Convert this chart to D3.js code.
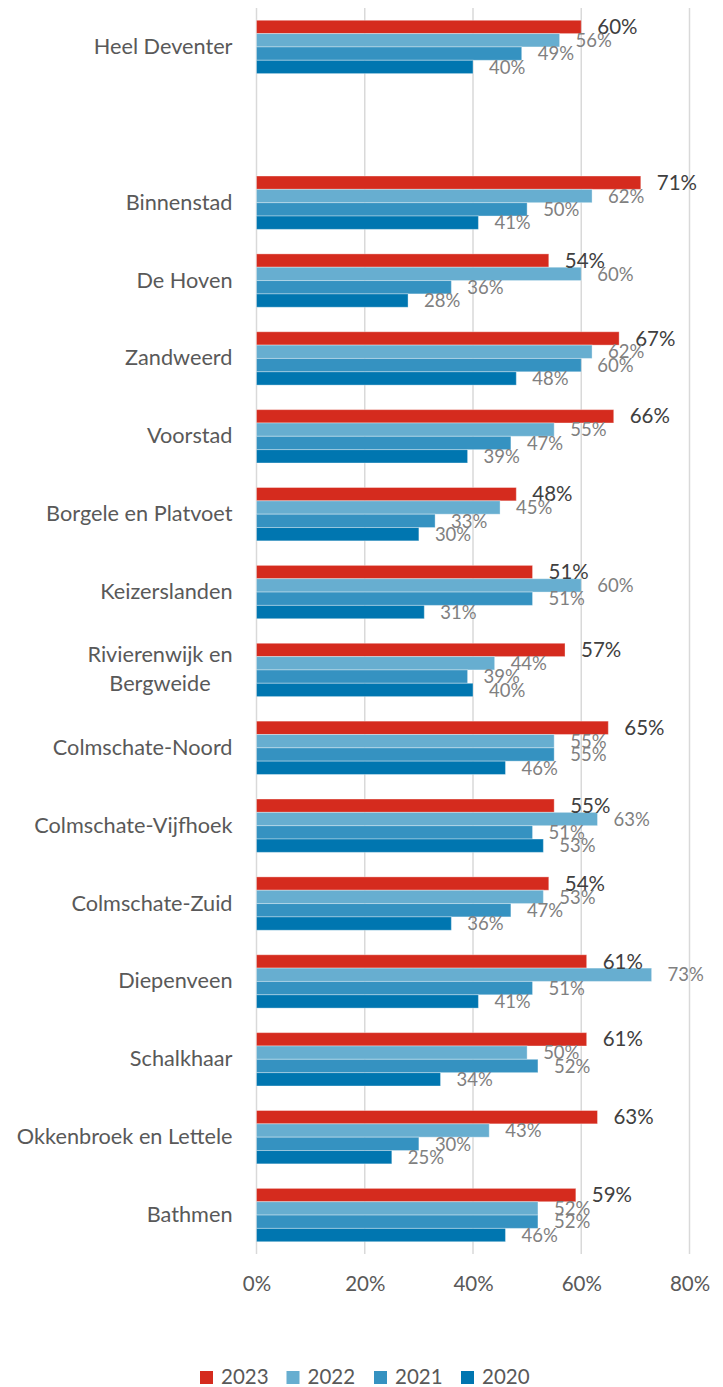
<!DOCTYPE html>
<html>
<head>
<meta charset="utf-8">
<script src="https://cdn.jsdelivr.net/npm/d3@7"></script>
<style>
  body { margin: 0; background: #fff; }
  svg { display: block; font-family: Lato, "Open Sans", sans-serif; }
</style>
</head>
<body>
<svg id="chart"></svg>
<script>
// categories, "" is the empty gap row under Heel Deventer
const categories = ["Heel Deventer", "", "Binnenstad", "De Hoven", "Zandweerd", "Voorstad",
  "Borgele en Platvoet", "Keizerslanden", "Rivierenwijk en|Bergweide", "Colmschate-Noord",
  "Colmschate-Vijfhoek", "Colmschate-Zuid", "Diepenveen", "Schalkhaar",
  "Okkenbroek en Lettele", "Bathmen"];
const years = ["2023", "2022", "2021", "2020"];
const v2023 = [60, null, 71, 54, 67, 66, 48, 51, 57, 65, 55, 54, 61, 61, 63, 59];
const v2022 = [56, null, 62, 60, 62, 55, 45, 60, 44, 55, 63, 53, 73, 50, 43, 52];
const v2021 = [49, null, 50, 36, 60, 47, 33, 51, 39, 55, 51, 47, 51, 52, 30, 52];
const v2020 = [40, null, 41, 28, 48, 39, 30, 31, 40, 46, 53, 36, 41, 34, 25, 46];
const xTicks = [0, 20, 40, 60, 80];

const colors = {"2023": "#D52B1E", "2022": "#67AED0", "2021": "#3592C1", "2020": "#0076B0"};
const series = {"2023": v2023, "2022": v2022, "2021": v2021, "2020": v2020};

const W = 723, H = 1387;
const mLeft = 256.5, mRight = 689.5, mTop = 8, mBottom = 1254;

const svg = d3.select('#chart')
  .attr('width', W)
  .attr('height', H);

const x = d3.scaleLinear().domain([0, 80]).range([mLeft, mRight]);
const y = d3.scaleBand().domain(categories).range([mTop, mBottom])
  .paddingInner(0.315).paddingOuter(0.1575);
const yInner = d3.scaleBand().domain(years).range([0, y.bandwidth()]);

// gridlines
svg.append('g')
  .selectAll('line')
  .data(xTicks)
  .join('line')
  .attr('x1', d => x(d)).attr('x2', d => x(d))
  .attr('y1', mTop).attr('y2', mBottom)
  .attr('stroke', '#d9d9d9')
  .attr('stroke-width', 1.5);

// x axis labels
const xAxis = d3.axisBottom(x).tickValues(xTicks).tickFormat(d => d + '%').tickSize(0).tickPadding(0);
const gx = svg.append('g')
  .attr('transform', `translate(0, ${mBottom})`)
  .call(xAxis);
gx.select('.domain').remove();
gx.selectAll('text')
  .attr('dy', null)
  .attr('y', 32)
  .attr('dominant-baseline', 'middle')
  .attr('fill', '#595959')
  .style('font-family', 'Lato, sans-serif')
  .style('font-size', '20.5px');

// category labels
const catG = svg.append('g');
categories.forEach((c, i) => {
  if (c === "") return;
  const lines = c.split('|');
  const cy = y(c) + y.bandwidth() / 2;
  const lh = 29;
  const t = catG.append('text')
    .attr('fill', '#595959')
    .style('font-size', '21.7px')
    .attr('dominant-baseline', 'middle');
  lines.forEach((ln, k) => {
    t.append('tspan')
      .attr('y', cy + (k - (lines.length - 1) / 2) * lh + 1)
      .text(ln);
  });
  if (lines.length === 1) {
    t.attr('text-anchor', 'end').selectAll('tspan').attr('x', 232.5);
  } else {
    const widths = [];
    t.selectAll('tspan').each(function() { widths.push(this.getComputedTextLength()); });
    const maxW = d3.max(widths);
    t.attr('text-anchor', 'middle').selectAll('tspan').attr('x', 232.5 - maxW / 2);
  }
});

// bars
const rows = [];
categories.forEach((c, i) => {
  years.forEach(yr => {
    const v = series[yr][i];
    if (v !== null) rows.push({cat: c, year: yr, value: v});
  });
});

svg.append('g')
  .selectAll('rect')
  .data(rows)
  .join('rect')
  .attr('x', x(0))
  .attr('y', d => y(d.cat) + yInner(d.year))
  .attr('width', d => x(d.value) - x(0))
  .attr('height', yInner.bandwidth())
  .attr('fill', d => colors[d.year])
  .attr('stroke', 'rgba(255,255,255,0.35)')
  .attr('stroke-width', 1);

// value labels
svg.append('g')
  .selectAll('text')
  .data(rows)
  .join('text')
  .attr('x', d => x(d.value) + 16)
  .attr('y', d => y(d.cat) + yInner(d.year) + yInner.bandwidth() / 2 + 2)
  .attr('dominant-baseline', 'middle')
  .attr('fill', d => d.year === "2023" ? '#404040' : '#808080')
  .style('font-size', d => d.year === "2023" ? '20.5px' : '18.5px')
  .text(d => Math.round(d.value) + '%');

// legend
const legend = svg.append('g').attr('transform', 'translate(200, 1371)');
const legendX = [0, 86.5, 174, 261];
years.forEach((yr, i) => {
  const g = legend.append('g').attr('transform', `translate(${legendX[i]}, 0)`);
  g.append('rect')
    .attr('width', 13).attr('height', 13)
    .attr('fill', colors[yr]);
  g.append('text')
    .attr('x', 21).attr('y', 7.5)
    .attr('dominant-baseline', 'middle')
    .attr('fill', '#595959')
    .style('font-size', '20.5px')
    .text(yr);
});
</script>
</body>
</html>
